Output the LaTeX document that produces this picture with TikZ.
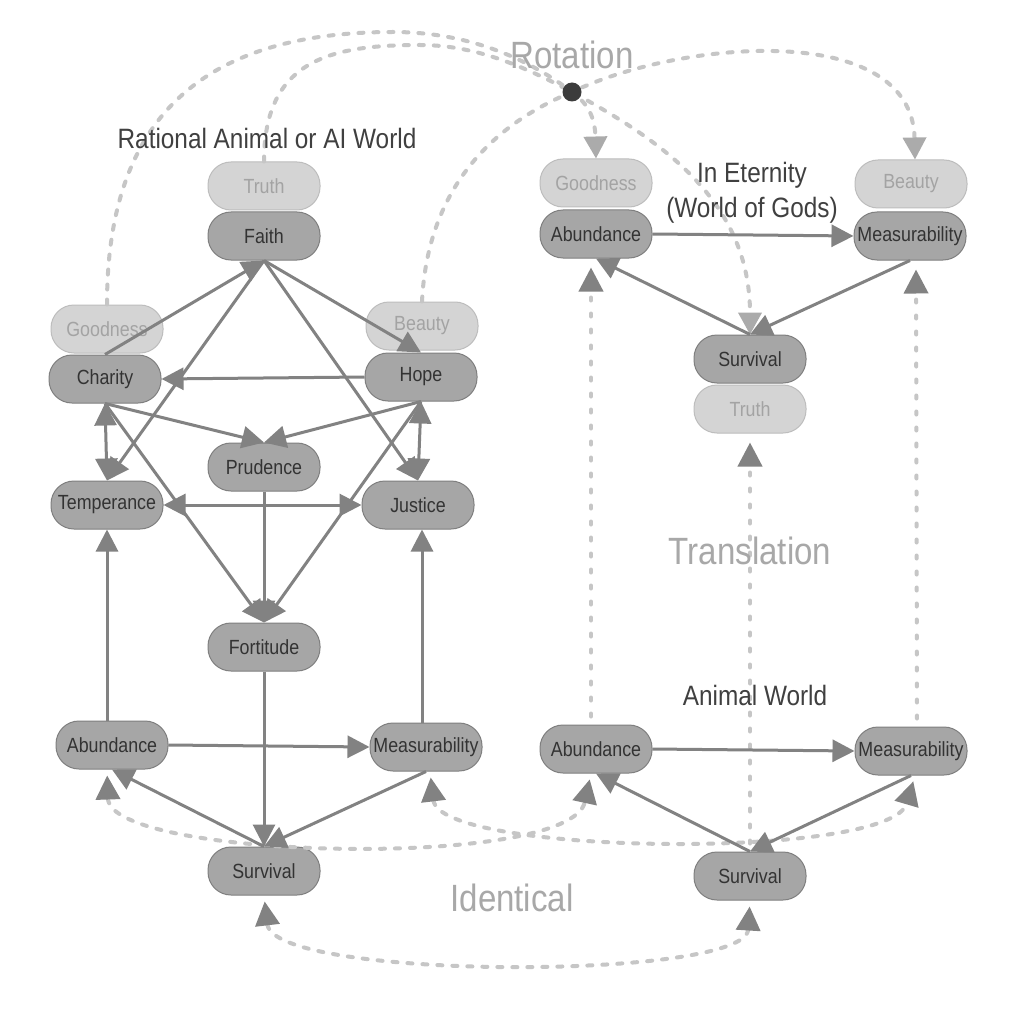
\documentclass[tikz,border=0pt]{standalone}
\usepackage{fontspec}
\setmainfont{Liberation Sans}[FakeStretch=0.87]
\usetikzlibrary{arrows.meta}
\definecolor{ndfill}{HTML}{A6A6A6}
\definecolor{ndline}{HTML}{7F7F7F}
\definecolor{ndtext}{HTML}{333333}
\definecolor{ltfill}{HTML}{D4D4D4}
\definecolor{ltline}{HTML}{BDBDBD}
\definecolor{lttext}{HTML}{A3A3A3}
\definecolor{edgec}{HTML}{828282}
\definecolor{dashc}{HTML}{C6C6C6}
\definecolor{rotarr}{HTML}{ABABAB}
\definecolor{titlec}{HTML}{404040}
\definecolor{bigc}{HTML}{A8A8A8}
\definecolor{dotc}{HTML}{3C3C3C}
\begin{document}
\begin{tikzpicture}[x=1pt,y=-1pt,
  nd/.style={draw=ndline, fill=ndfill, line width=1pt, rounded corners=23pt,
    minimum width=112pt, minimum height=48pt, inner sep=0pt, text=ndtext,
    font=\fontsize{20.5}{24}\selectfont},
  lt/.style={nd, draw=ltline, fill=ltfill, text=lttext},
  edge/.style={draw=edgec, line width=3pt, -{Triangle[length=22pt,width=22pt]}},
  bedge/.style={draw=edgec, line width=3pt, {Triangle[length=22pt,width=22pt]}-{Triangle[length=22pt,width=22pt]}},
  rot/.style={draw=dashc, line width=4pt, dash pattern=on 5pt off 10pt, line cap=round,
    -{Triangle[length=22pt,width=23pt,color=rotarr]}},
  trans/.style={draw=dashc, line width=4pt, dash pattern=on 3pt off 13pt, line cap=round,
    -{Triangle[length=24pt,width=24pt,color=edgec]}, shorten >=9pt, shorten <=8pt},
  ident/.style={draw=dashc, line width=4pt, dash pattern=on 5pt off 10pt, line cap=round,
    {Triangle[length=24pt,width=24pt,color=edgec]}-{Triangle[length=24pt,width=24pt,color=edgec]},
    shorten >=6pt, shorten <=6pt},
  title/.style={text=titlec, font=\fontsize{28}{35}\selectfont, align=center},
  big/.style={text=bigc, font=\fontsize{38}{44}\selectfont}
]
\useasboundingbox (0,0) rectangle (1024,1024);
\fill[white] (0,0) rectangle (1024,1024);

% ---------- nodes: left world ----------
\node[lt] (truthL) at (264,186) {Truth};
\node[nd] (faith) at (264,236) {Faith};
\node[lt] (goodL) at (107,329) {Goodness};
\node[nd] (charity) at (105,379) {Charity};
\node[lt] (beautyL) at (422,326) {Beauty};
\node[nd] (hope) at (421,377) {Hope};
\node[nd] (prudence) at (264,467) {Prudence};
\node[nd] (temperance) at (107,505) {Temperance};
\node[nd] (justice) at (418,505) {Justice};
\node[nd] (fortitude) at (264,647) {Fortitude};
\node[nd] (abL) at (112,745) {Abundance};
\node[nd] (measL) at (426,747) {Measurability};
\node[nd] (survL) at (264,871) {Survival};

% ---------- nodes: eternity ----------
\node[lt] (goodR) at (596,183) {Goodness};
\node[nd] (abR) at (596,234) {Abundance};
\node[lt] (beautyR) at (911,184) {Beauty};
\node[nd] (measR) at (910,236) {Measurability};
\node[nd] (survR) at (750,359) {Survival};
\node[lt] (truthR) at (750,409) {Truth};

% ---------- nodes: animal world ----------
\node[nd] (abRb) at (596,749) {Abundance};
\node[nd] (measRb) at (911,751) {Measurability};
\node[nd] (survRb) at (750,876) {Survival};

\coordinate (dot) at (572,92);

% ---------- rotation curves ----------
\draw[rot] (goodL.north) .. controls (107,120) and (200,32) .. (393,32)
  .. controls (470,32) and (530,60) .. (dot)
  .. controls (590,105) and (595,120) .. (goodR.north);
\draw[rot] (truthL.north) .. controls (264,60) and (330,45) .. (420,45)
  .. controls (480,45) and (530,70) .. (dot)
  .. controls (660,140) and (750,200) .. (survR.north);
\draw[rot] (beautyL.north) .. controls (427,200) and (480,130) .. (dot)
  .. controls (680,40) and (912,20) .. ([xshift=4pt]beautyR.north);
\fill[dotc] (dot) circle[radius=9.5pt];

% ---------- translation ----------
\draw[trans] ([xshift=-5pt]abRb.north) -- ([xshift=-5pt]abR.south);
\draw[trans] (survRb.north) -- (truthR.south);
\draw[trans] ([xshift=6pt]measRb.north) -- ([xshift=6pt]measR.south);

% ---------- identical ----------
\draw[ident] ([xshift=-5pt]abL.south) .. controls +(3,90) and +(-21,97) .. ([xshift=-5pt]abRb.south);
\draw[ident] ([xshift=4pt]measL.south) .. controls +(10,84) and +(-25,85) .. ([xshift=4pt]measRb.south);
\draw[ident] (survL.south) .. controls +(10,85) and +(-5,80) .. (survRb.south);

% ---------- solid edges: left world ----------
\draw[edge] (charity.north) -- (faith.south);
\draw[edge] (faith.south) -- (hope.north);
\draw[edge] (faith.south) -- (temperance.north);
\draw[edge] (faith.south) -- (justice.north);
\draw[edge] (hope.west) -- (charity.east);
\draw[edge] (charity.south) -- (prudence.north);
\draw[edge] (hope.south) -- (prudence.north);
\draw[bedge] (charity.south) -- (temperance.north);
\draw[bedge] (hope.south) -- (justice.north);
\draw[edge] (charity.south) -- (fortitude.north);
\draw[edge] (hope.south) -- (fortitude.north);
\draw[edge] (prudence.south) -- (fortitude.north);
\draw[bedge] (temperance.east) -- (justice.west);
\draw[edge] (abL.north -| temperance.south) -- (temperance.south);
\draw[edge] ([xshift=-4pt]measL.north) -- ([xshift=4pt]justice.south);
\draw[edge] (fortitude.south) -- (survL.north);
\draw[edge] (abL.east) -- (measL.west);
\draw[edge] (survL.north) -- (abL.south);
\draw[edge] (measL.south) -- (survL.north);

% ---------- solid edges: eternity ----------
\draw[edge] (abR.east) -- (measR.west);
\draw[edge] (survR.north) -- (abR.south);
\draw[edge] (measR.south) -- (survR.north);

% ---------- solid edges: animal world ----------
\draw[edge] (abRb.east) -- (measRb.west);
\draw[edge] (survRb.north) -- (abRb.south);
\draw[edge] (measRb.south) -- (survRb.north);

% ---------- labels ----------
\node[title] (tRat) at (267,138) {Rational Animal or AI World};
\node[title] (tEt) at (752,193) {In Eternity\\(World of Gods)};
\node[title] (tAn) at (755,695) {Animal World};
\node[big] (tRot) at (572,55) {Rotation};
\node[big] (tTr) at (750,551) {Translation};
\node[big] (tId) at (512,898) {Identical};
\end{tikzpicture}
\end{document}
